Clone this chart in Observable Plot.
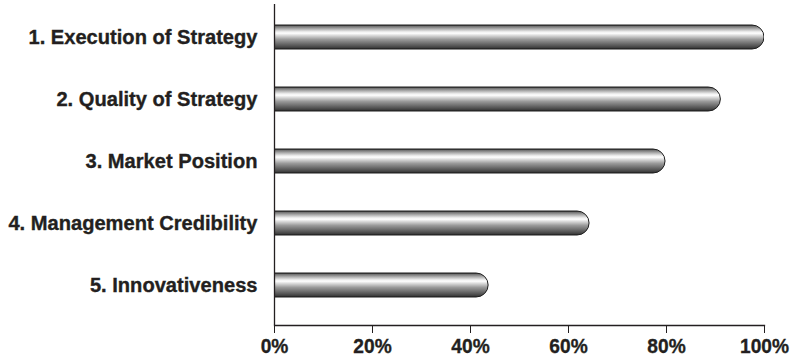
<!DOCTYPE html>
<html><head><meta charset="utf-8">
<script src="https://cdn.jsdelivr.net/npm/d3@7"></script>
<script src="https://cdn.jsdelivr.net/npm/@observablehq/plot@0.6"></script>
<style>body{margin:0;background:#fff}</style>
</head><body><div id="chart"></div>
<script>
const categories = ["1. Execution of Strategy", "2. Quality of Strategy", "3. Market Position", "4. Management Credibility", "5. Innovativeness"];
const values = [100, 91.1, 79.8, 64.3, 43.7];
const tickValues = [0, 20, 40, 60, 80, 100];
const tickLabels = ["0%", "20%", "40%", "60%", "80%", "100%"];

const data = categories.map((c, i) => ({category: c, value: values[i]}));
const font = "'Liberation Sans', Arial, Helvetica, sans-serif";

const plot = Plot.plot({
  width: 790, height: 362,
  marginLeft: 274, marginRight: 26, marginTop: 4, marginBottom: 37,
  style: {fontFamily: font, background: "white", color: "#231f20", overflow: "visible"},
  x: {domain: [0, 100], ticks: tickValues},
  y: {domain: categories, paddingInner: 0.618, paddingOuter: 0.309, insetBottom: 7},
  marks: [
    Plot.barX(data, {x: "value", y: "category", fill: "url(#cyl)", stroke: "#1e1e1e", strokeWidth: 1, rx: 12, insetLeft: -14, clip: true}),
    Plot.ruleX([0], {stroke: "#231f20", strokeWidth: 1.3}),
    Plot.frame({anchor: "bottom", stroke: "#231f20", strokeWidth: 1.3}),
    Plot.axisX({ticks: tickValues, tickFormat: d => tickLabels[tickValues.indexOf(d)], tickSize: 8, tickPadding: 5, fontSize: 21, fontWeight: "bold", stroke: "#231f20", label: null}),
    Plot.axisY({tickSize: 0, tickPadding: 17, fontSize: 20, fontWeight: "bold", label: null})
  ]
});

const stops = [[0, "#2a2a2a"], [0.05, "#6e6e6e"], [0.15, "#a8a8a8"], [0.27, "#e8e8e8"], [0.34, "#ffffff"], [0.42, "#e0e0e0"], [0.6, "#9a9a9a"], [0.8, "#666666"], [0.93, "#444444"], [1, "#2a2a2a"]];
const grad = d3.select(plot).insert("defs", ":first-child")
  .append("linearGradient").attr("id", "cyl")
  .attr("x1", 0).attr("y1", 0).attr("x2", 0).attr("y2", 1);
grad.selectAll("stop").data(stops).join("stop")
  .attr("offset", d => d[0]).attr("stop-color", d => d[1]);

document.getElementById("chart").appendChild(plot);

// condense the bold type to match the narrow, heavy face of the original
function condense(selector, refText, targetWidth) {
  const texts = Array.from(plot.querySelectorAll(selector));
  const ref = texts.find(t => t.textContent === refText);
  if (!ref) return;
  const k = targetWidth / ref.getComputedTextLength();
  texts.forEach(t => {
    const w = t.getComputedTextLength();
    t.setAttribute("textLength", w * k);
    t.setAttribute("lengthAdjust", "spacingAndGlyphs");
    t.setAttribute("stroke", "#231f20");
    t.setAttribute("stroke-width", 0.35);
  });
}
condense("g[aria-label='y-axis tick label'] text", categories[0], 229);
condense("g[aria-label='x-axis tick label'] text", tickLabels[5], 49);
</script>
</body></html>
